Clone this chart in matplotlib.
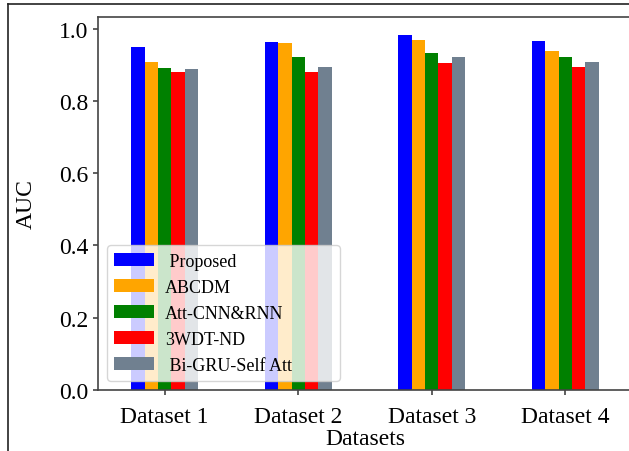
import numpy as np
import matplotlib
matplotlib.use('Agg')
import matplotlib.pyplot as plt
from matplotlib.lines import Line2D

plt.rcParams['font.family'] = ['Liberation Serif', 'DejaVu Serif']

datasets = ['Dataset 1', 'Dataset 2', 'Dataset 3', 'Dataset 4']
methods = [' Proposed', 'ABCDM', 'Att-CNN&RNN', '3WDT-ND', ' Bi-GRU-Self Att         ']
colors = ['blue', 'orange', 'green', 'red', 'slategray']

proposed = [0.948, 0.963, 0.983, 0.966]
abcdm = [0.908, 0.959, 0.969, 0.939]
att_cnn_rnn = [0.892, 0.922, 0.932, 0.921]
wdt_nd = [0.879, 0.879, 0.906, 0.893]
bigru_att = [0.888, 0.895, 0.921, 0.908]

scores = [proposed, abcdm, att_cnn_rnn, wdt_nd, bigru_att]

fig = plt.figure(figsize=(6.29, 4.52), dpi=100)
ax = fig.add_axes([98 / 629, 61 / 452, 534 / 629, 373 / 452])

x = np.arange(len(datasets))
width = 0.1
for i, (vals, name, c) in enumerate(zip(scores, methods, colors)):
    ax.bar(x + (i - 2) * width, vals, width, label=name, color=c)

ax.set_xlim(-0.5, 3.5)
ax.set_xticks(x)
ax.set_xticklabels(datasets, fontsize=17)
ax.tick_params(axis='x', pad=8)
ax.tick_params(axis='y', labelsize=17)
ax.set_yticks([0.0, 0.2, 0.4, 0.6, 0.8, 1.0])
ax.set_xlabel('Datasets', fontsize=17, labelpad=1)
ax.set_ylabel('AUC', fontsize=17, labelpad=16)
for s in ax.spines.values():
    s.set_color('#444444')
    s.set_linewidth(1.2)
ax.tick_params(color='#444444', width=1.2)

ax.legend(loc='lower left', fontsize=13, handlelength=2.2, handletextpad=0.6)

# thin frame around the figure (top and left edges)
fig.add_artist(Line2D([8 / 629, 1.0], [1 - 5 / 452, 1 - 5 / 452],
                      transform=fig.transFigure, color='#222222', lw=1.2))
fig.add_artist(Line2D([8 / 629, 8 / 629], [0.0, 1 - 5 / 452],
                      transform=fig.transFigure, color='#222222', lw=1.2))

fig.savefig('out.png', dpi=100)
